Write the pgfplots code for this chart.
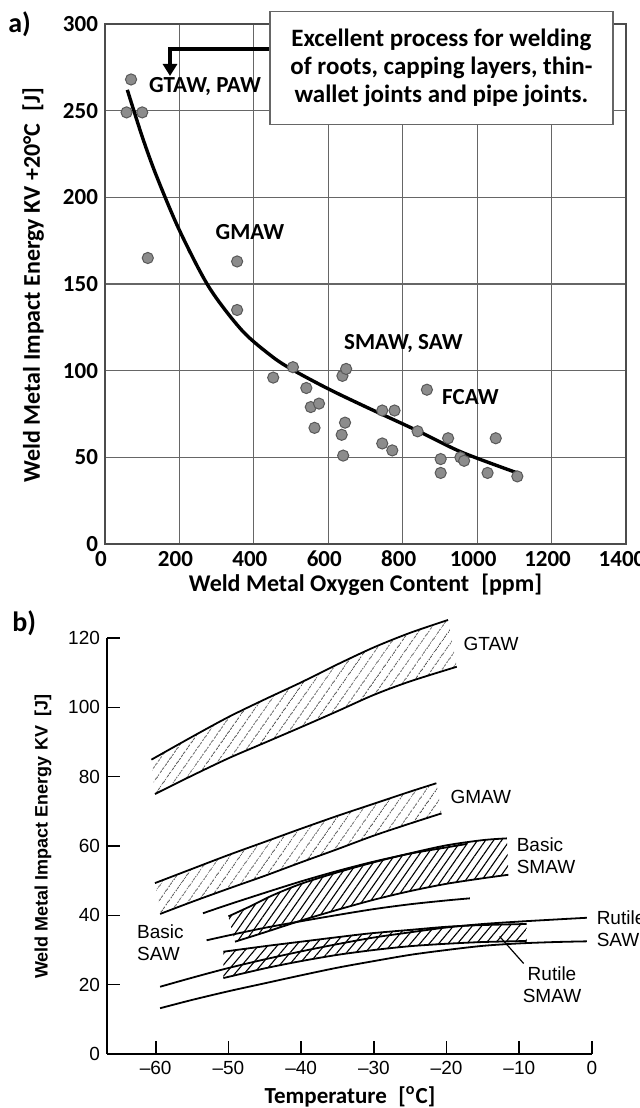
\documentclass[border=0pt]{standalone}
\usepackage{fontspec}
\setmainfont{Carlito}
\newfontfamily\arial{Liberation Sans}
\usepackage{pgfplots}
\pgfplotsset{compat=1.18}
\usepgfplotslibrary{fillbetween}
\usetikzlibrary{patterns.meta,arrows.meta}
\begin{document}
\begin{tikzpicture}[x=1pt,y=1pt]
\node[anchor=west, inner sep=0, font=\fontsize{14}{16}\selectfont\bfseries] at (4pt,542pt) {a)};
\node[anchor=west, inner sep=0, font=\fontsize{14}{16}\selectfont\bfseries] at (6pt,242.5pt) {b)};

% ---------------- panel a ----------------
\begin{axis}[
  at={(52.5pt,282pt)}, anchor=south west, scale only axis, width=260.5pt, height=260pt,
  xmin=0, xmax=1400, ymin=0, ymax=300,
  xtick={0,200,...,1400}, ytick={0,50,...,300},
  xticklabels={0,200,400,600,800,1000,1200,{1400\hspace{11pt}}},
  xticklabel style={xshift=-2pt},
  grid=major, major grid style={black!60, line width=0.6pt},
  axis line style={black!70, line width=0.6pt},
  major tick length=0pt,
  /pgf/number format/assume math mode=true,
  /pgf/number format/1000 sep={},
  tick label style={font=\fontsize{11.5}{13}\selectfont\bfseries},
  xlabel={Weld Metal Oxygen Content\hspace{0.5em}[ppm]},
  ylabel={Weld Metal Impact Energy KV +20°C\hspace{0.5em}[J]},
  label style={font=\fontsize{12}{14}\selectfont\bfseries},
  xlabel style={at={(axis description cs:0.5,-0.079)}, anchor=center},
  ylabel style={at={(axis description cs:-0.138,0.498)}, anchor=center},
  clip=false,
]
\addplot[only marks, mark=*, mark size=2.8pt, mark options={fill=black!45, draw=black!65, line width=0.5pt}] coordinates {
(70,268) (58,249) (100,249) (115,165) (355,163) (355,135) (452,96) (505,102)
(541,90) (553,79) (575,81) (563,67) (638,97) (648,101) (645,70) (636,63) (640,51)
(745,77) (778,77) (745,58) (772,54) (840,65) (865,89) (922,61) (902,49) (902,41)
(955,50) (965,48) (1050,61) (1028,41) (1108,39)
};
\addplot[smooth, black, line width=1.7pt] coordinates {
(60,262) (100,235) (138,212.5) (200,181) (280,148) (369,123) (450,108) (504,100.5)
(600,89.5) (702,79) (838,65.5) (958,53) (1108,41)
};
\begin{scope}[font=\fontsize{11.5}{13}\selectfont\bfseries]
\node at (axis cs:268.7,263.8) {GTAW, PAW};
\node at (axis cs:389.6,179.9) {GMAW};
\node at (axis cs:802,115.8) {SMAW, SAW};
\node at (axis cs:982,85) {FCAW};
\end{scope}
\draw[line width=1.6pt, -{Triangle[width=7pt,length=6pt]}] (axis cs:443,285.6) -| (axis cs:174.7,270);
\node[draw=black!60, line width=0.6pt, fill=white, align=center, minimum width=171.5pt, minimum height=56.5pt, inner sep=0pt, font=\fontsize{12.5}{14}\selectfont\bfseries] at (axis cs:904,274.5) {Excellent process for welding\\of roots, capping layers, thin-\\wallet joints and pipe joints.};
\end{axis}

% ---------------- panel b ----------------
\begin{axis}[
  at={(53.5pt,27pt)}, anchor=south west, scale only axis, width=242.5pt, height=208pt,
  xmin=-66.7, xmax=0, ymin=0, ymax=120,
  axis x line=bottom, axis y line=left, axis line style={-, line width=0.9pt},
  xtick={-60,-50,...,0}, xticklabels={–60,–50,–40,–30,–20,–10,0},
  ytick={0,20,...,120},
  tick align=inside, major tick length=6.5pt, tick style={black, line width=0.8pt},
  tick label style={font=\arial\fontsize{9.5}{11}\selectfont},
  /pgf/number format/assume math mode=true,
  xlabel={Temperature\hspace{0.5em}[\textsuperscript{o}C]},
  xlabel style={font=\fontsize{11.5}{13}\selectfont\bfseries, at={(axis description cs:0.501,-0.103)}, anchor=center},
  ylabel={Weld Metal Impact Energy KV\hspace{0.5em}[J]},
  ylabel style={font=\arial\fontsize{9}{11}\selectfont\bfseries, at={(axis description cs:-0.132,0.522)}, anchor=center},
  clip=false,
  bl/.style={black, line width=0.9pt, smooth},
]
% GTAW
\addplot[bl, name path=gtU] coordinates {(-60.6,84.9) (-55,91.5) (-50,97.2) (-45,102.3) (-40,107.2) (-35,112.4) (-30,117.3) (-25,121.5) (-19.8,125.2)};
\addplot[bl, name path=gtL] coordinates {(-60.1,75) (-55,80.3) (-50,85.3) (-45,89.8) (-40,94.3) (-35,98.9) (-30,103.6) (-25,107.5) (-18.6,111.7)};
\addplot[draw=none, pattern={Lines[angle=55,distance=4pt,line width=0.45pt]}, pattern color=black!65] fill between[of=gtU and gtL];
% GMAW
\addplot[bl, name path=gmU] coordinates {(-60.1,49.3) (-55,53.4) (-50,57.4) (-45,61.2) (-40,65) (-35,68.7) (-30,72.2) (-25,75.7) (-21.4,78.1)};
\addplot[bl, name path=gmL] coordinates {(-59.4,40.4) (-55,43.9) (-50,47.7) (-45,51.4) (-40,55.3) (-35,59.1) (-30,63) (-25,66.5) (-20.7,69.4)};
\addplot[draw=none, pattern={Lines[angle=55,distance=4pt,line width=0.45pt]}, pattern color=black!65] fill between[of=gmU and gmL];
% Basic SAW (outline only)
\addplot[bl] coordinates {(-53.5,40.6) (-50,43.1) (-45,46.5) (-40,49.8) (-35,52.8) (-30,55.5) (-25,57.8) (-20,59.6) (-17.2,60.6)};
\addplot[bl] coordinates {(-53,32.8) (-50,34.2) (-45,36.4) (-40,38.3) (-35,40.1) (-30,41.8) (-25,43.2) (-20,44.3) (-16.8,44.9)};
% Basic SMAW
\addplot[bl, name path=bsU] coordinates {(-50,39.7) (-47,42.6) (-44,45.7) (-40,49.1) (-35,52.4) (-30,55.3) (-25,57.9) (-20,60.2) (-15,61.7) (-11.7,62.2)};
\addplot[bl, name path=bsL] coordinates {(-49.1,32.4) (-45,35.1) (-40,38.5) (-35,41.6) (-30,44.5) (-25,47) (-20,49.1) (-15,50.7) (-11.5,51.7)};
\addplot[draw=none, pattern={Lines[angle=55,distance=3.3pt,line width=0.55pt]}, pattern color=black] fill between[of=bsU and bsL];
% Rutile SAW (outline only)
\addplot[bl] coordinates {(-59.4,19.4) (-55,22) (-50.2,24.7) (-45,27.3) (-40,29.6) (-35,31.7) (-30,33.6) (-25,35.1) (-20,36.5) (-15,37.5) (-10,38.2) (-5,38.8) (-0.7,39.3)};
\addplot[bl] coordinates {(-59.4,13.2) (-55,15.6) (-50,18.1) (-45,20.4) (-40,22.7) (-35,24.9) (-30,26.8) (-25,28.6) (-20,30) (-15,31.2) (-10,31.9) (-5,32.3) (-0.7,32.5)};
% Rutile SMAW
\addplot[bl, name path=rsU] coordinates {(-50.7,29.5) (-45,31.1) (-40,32.4) (-35,33.7) (-30.5,34.8) (-25,35.8) (-20,36.7) (-15,37.2) (-9,37.5)};
\addplot[bl, name path=rsL] coordinates {(-50.7,21.9) (-45,24.7) (-40,26.8) (-35,28.6) (-30,30) (-25,31.1) (-20,31.8) (-15,32.3) (-9,32.6)};
\addplot[draw=none, pattern={Lines[angle=50,distance=3.6pt,line width=0.55pt]}, pattern color=black] fill between[of=rsU and rsL];
% labels
\begin{scope}[font=\arial\fontsize{9.5}{11}\selectfont]
\node[anchor=west, inner sep=0] at (axis cs:-17.7,118.3) {GTAW};
\node[anchor=west, inner sep=0] at (axis cs:-19.5,74.2) {GMAW};
\node[anchor=west, inner sep=0, align=left] at (axis cs:-10.4,57.1) {Basic\\SMAW};
\node[anchor=west, inner sep=0, align=left] at (axis cs:-62.6,32.1) {Basic\\SAW};
\node[anchor=west, inner sep=0, align=left] at (axis cs:0.6,36) {Rutile\\SAW};
\node[inner sep=0, align=center] at (axis cs:-5.5,19.9) {Rutile\\SMAW};
\end{scope}
\draw[line width=0.6pt] (axis cs:-9.4,26.1) -- (axis cs:-12.7,33.9);
\end{axis}
\pgfresetboundingbox
\path[use as bounding box] (0pt,0pt) rectangle (319.5pt,554pt);
\end{tikzpicture}
\end{document}
